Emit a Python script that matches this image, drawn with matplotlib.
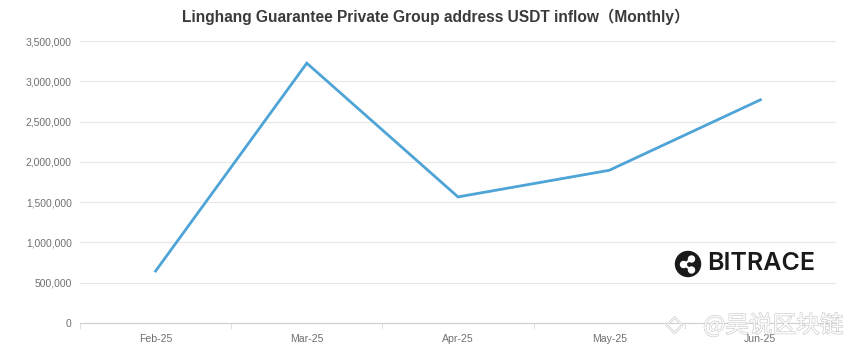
import matplotlib
matplotlib.use("Agg")
import matplotlib.pyplot as plt
from matplotlib.ticker import FuncFormatter, FixedLocator
from matplotlib.patches import Ellipse
import matplotlib.patheffects as pe

months = ["Feb-25", "Mar-25", "Apr-25", "May-25", "Jun-25"]
inflow = [645000, 3225000, 1565000, 1895000, 2770000]
yticks = [0, 500000, 1000000, 1500000, 2000000, 2500000, 3000000, 3500000]
title = "Linghang Guarantee Private Group address USDT inflow\uff08Monthly\uff09"

plt.rcParams['font.family'] = ['Liberation Sans', 'Noto Sans CJK SC', 'DejaVu Sans']

W, H = 852, 351
fig = plt.figure(figsize=(W/100, H/100), dpi=100)
ax = fig.add_axes([80/W, 1-323/H, (836-80)/W, (323-41)/H])

x = list(range(len(months)))
ax.plot(x, inflow, color="#4ea3d7", linewidth=2.0, solid_joinstyle="miter", zorder=3)

ax.set_xlim(-0.5, len(months) - 0.5)
ax.set_ylim(0, 3500000)
ax.set_yticks(yticks)
ax.yaxis.set_major_formatter(FuncFormatter(lambda v, p: f"{int(v):,}"))
ax.set_xticks(x)
ax.set_xticklabels(months)
ax.xaxis.set_minor_locator(FixedLocator([i + 0.5 for i in range(len(months) - 1)] + [-0.5, len(months) - 0.5]))

ax.grid(axis="y", color="#e8e8e8", linewidth=0.8)
ax.set_axisbelow(True)
for s in ["top", "right", "left"]:
    ax.spines[s].set_visible(False)
ax.spines["bottom"].set_color("#d0d0d0")
ax.spines["bottom"].set_linewidth(0.8)
ax.tick_params(axis="y", length=0, labelsize=7.4, labelcolor="#707070", pad=6)
ax.tick_params(axis="x", which="major", length=0, labelsize=7.6, labelcolor="#707070", pad=8)
ax.tick_params(axis="x", which="minor", length=4, color="#d8d8d8")

fig.text(436/W, 1 - 17/H, title, ha="center", va="center", fontsize=11.2,
         fontweight="bold", color="#3a3a3a")

# BITRACE logo
cx, cy, r = 688, 264, 12.5
fig.patches.append(Ellipse((cx/W, 1-cy/H), 2*r/W, 2*r/H, transform=fig.transFigure,
                           color="#1a1a1a", zorder=5))
nodes = [(cx-4.5, cy+0.5), (cx+3.5, cy-5), (cx+3.5, cy+6)]
for (x0, y0) in nodes[1:]:
    fig.add_artist(plt.Line2D([nodes[0][0]/W, x0/W], [1-nodes[0][1]/H, 1-y0/H],
                              transform=fig.transFigure, color="white", lw=1.6, zorder=6))
for (x0, y0) in nodes:
    fig.patches.append(Ellipse((x0/W, 1-y0/H), 6/W, 6/H, transform=fig.transFigure,
                               color="white", zorder=7))
fig.text(707/W, 1-263/H, "BITRACE", ha="left", va="center", fontsize=18,
         color="#1a1a1a", fontweight="semibold", family=["Inter", "Liberation Sans"], zorder=5)

# watermark
wm_fx = [pe.Stroke(linewidth=0.8, foreground="#c2c2c2"), pe.Normal()]
fig.text(666/W, 1-325/H, "\u25c7", ha="left", va="center", fontsize=16, color="white",
         family=['DejaVu Sans'], path_effects=wm_fx, zorder=8)
fig.text(703/W, 1-325/H, "@\u5434\u8bf4\u533a\u5757\u94fe", ha="left", va="center",
         fontsize=17, color="white", alpha=0.9,
         family=['Noto Sans CJK SC', 'DejaVu Sans'], path_effects=wm_fx, zorder=8)

fig.savefig("out.png", dpi=100, facecolor="white")
